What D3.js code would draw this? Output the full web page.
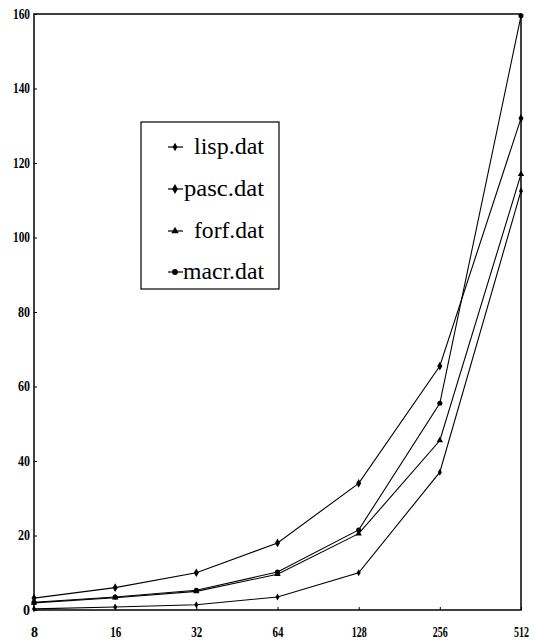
<!DOCTYPE html>
<html>
<head>
<meta charset="utf-8">
<script src="https://cdn.jsdelivr.net/npm/d3@7"></script>
<style>
  body { margin: 0; background: #fff; }
  text { font-family: "Liberation Serif", "DejaVu Serif", serif; fill: #000; }
</style>
</head>
<body>
<svg id="chart" width="534" height="640"></svg>
<script>
// problem sizes on x, times on y
const sizes = [8, 16, 32, 64, 128, 256, 512];
const lisp = [0.3, 0.8, 1.4, 3.5, 10, 37, 112.5];
const pasc = [3.2, 6, 10, 18, 34, 65.5, 132];
const forf = [1.9, 3.3, 5, 9.6, 20.5, 45.5, 117];
const macr = [2.1, 3.5, 5.3, 10.2, 21.5, 55.5, 159.5];
const yTicks = [0, 20, 40, 60, 80, 100, 120, 140, 160];
const seriesNames = ["lisp.dat", "pasc.dat", "forf.dat", "macr.dat"];

const series = [
  {name: seriesNames[0], vals: lisp, sym: d3.symbolDiamond, size: 14},
  {name: seriesNames[1], vals: pasc, sym: d3.symbolDiamond, size: 22},
  {name: seriesNames[2], vals: forf, sym: d3.symbolTriangle, size: 18},
  {name: seriesNames[3], vals: macr, sym: d3.symbolCircle, size: 20}
];

const pLeft = 34, pRight = 521, pTop = 14, pBottom = 610;

const svg = d3.select("#chart");

const x = d3.scaleLog().base(2).domain([8, 512]).range([pLeft, pRight]);
const y = d3.scaleLinear().domain([0, 160]).range([pBottom, pTop]);

// frame
svg.append("rect")
    .attr("x", pLeft)
    .attr("y", pTop)
    .attr("width", pRight - pLeft)
    .attr("height", pBottom - pTop)
    .attr("fill", "none")
    .attr("stroke", "#000")
    .attr("stroke-width", 1.5)

// y axis, ticks point inward
const yAxis = svg.append("g")
    .attr("transform", `translate(${pLeft},0)`)
    .call(d3.axisLeft(y).tickValues(yTicks).tickSize(-3).tickPadding(4).tickFormat(d3.format("d")));
yAxis.select(".domain").remove();
yAxis.selectAll("line").attr("stroke", "#000");
yAxis.selectAll("text")
    .attr("font-size", 14)
    .attr("font-weight", "bold")
    .attr("textLength", d => d < 10 ? 7 : d < 100 ? 12 : 17)
    .attr("lengthAdjust", "spacingAndGlyphs");

// x axis
const xAxis = svg.append("g")
    .attr("transform", `translate(0,${pBottom})`)
    .call(d3.axisBottom(x).tickValues(sizes).tickSize(-3).tickPadding(17).tickFormat(d3.format("d")));
xAxis.select(".domain").remove();
xAxis.selectAll("line").attr("stroke", "#000");
xAxis.selectAll("text")
    .attr("font-size", 14)
    .attr("font-weight", "bold")
    .attr("textLength", d => d < 10 ? 7 : d < 100 ? 11 : 15)
    .attr("lengthAdjust", "spacingAndGlyphs");

const line = d3.line()
    .x((d, i) => x(sizes[i]))
    .y(d => y(d));

series.forEach(s => {
  svg.append("path")
      .attr("d", line(s.vals))
      .attr("fill", "none")
      .attr("stroke", "#000")
      .attr("stroke-width", 1.1)

  svg.selectAll(null)
      .data(s.vals)
      .enter()
      .append("path")
        .attr("d", d3.symbol().type(s.sym).size(s.size))
        .attr("transform", (d, i) => `translate(${x(sizes[i])},${y(d)})`)
        .attr("fill", "#000")
});

// legend
const lg = svg.append("g");
lg.append("rect")
    .attr("x", 141)
    .attr("y", 122)
    .attr("width", 138)
    .attr("height", 167)
    .attr("fill", "#fff")
    .attr("stroke", "#000")
    .attr("stroke-width", 1.2)

const legY = [147, 189, 231, 272];
const legW = [70, 80, 70, 81];
series.forEach((s, i) => {
  lg.append("line")
      .attr("x1", 168)
      .attr("x2", 183)
      .attr("y1", legY[i])
      .attr("y2", legY[i])
      .attr("stroke", "#000")
      .attr("stroke-width", 1.2)
  lg.append("path")
      .attr("d", d3.symbol().type(s.sym).size(s.size + 6))
      .attr("transform", `translate(175,${legY[i]})`)
      .attr("fill", "#000")
  lg.append("text")
      .attr("x", 264)
      .attr("y", legY[i] + 7)
      .attr("text-anchor", "end")
      .attr("font-size", 24)
      .attr("textLength", legW[i])
      .attr("lengthAdjust", "spacingAndGlyphs")
      .text(s.name)
});
</script>
</body>
</html>
